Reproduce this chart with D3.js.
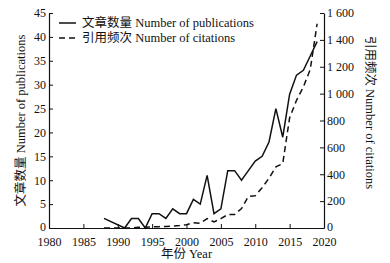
<!DOCTYPE html>
<html>
<head>
<meta charset="utf-8">
<script src="https://cdn.jsdelivr.net/npm/d3@7"></script>
<style>
  body { margin: 0; background: #fff; }
</style>
</head>
<body>
<div id="chart"></div>
<script>
// Data
const pubYears = [1988, 1991, 1992, 1993, 1994, 1995, 1996, 1997, 1998, 1999, 2000, 2001, 2002, 2003, 2004, 2005, 2006, 2007, 2008, 2009, 2010, 2011, 2012, 2013, 2014, 2015, 2016, 2017, 2018, 2019];
const publications = [2, 0, 2, 2, 0, 3, 3, 2, 4, 3, 3, 6, 5, 11, 3, 4, 12, 12, 10, 12, 14, 15, 18, 25, 19, 28, 32, 33, 36, 39];

const citeYears = [1988, 1989, 1990, 1991, 1992, 1993, 1994, 1995, 1996, 1997, 1998, 1999, 2000, 2001, 2002, 2003, 2004, 2005, 2006, 2007, 2008, 2009, 2010, 2011, 2012, 2013, 2014, 2015, 2016, 2017, 2018, 2019];
const citations = [0, 0, 0, 0, 0, 5, 5, 8, 10, 12, 15, 18, 25, 40, 35, 70, 45, 70, 100, 100, 145, 235, 240, 300, 370, 455, 480, 820, 950, 1050, 1180, 1520];

const xTicks = [1980, 1985, 1990, 1995, 2000, 2005, 2010, 2015, 2020];
const leftTicks = [0, 5, 10, 15, 20, 25, 30, 35, 40, 45];
const rightTicks = [0, 200, 400, 600, 800, 1000, 1200, 1400, 1600];

const legendLabels = ["文章数量 Number of publications", "引用频次 Number of citations"];

const width = 390;
const height = 263;
const margin = { top: 13, right: 66, bottom: 35, left: 49 };
const fontFamily = '"Liberation Serif", "Times New Roman", Times, "Noto Sans CJK SC", serif';

const svg = d3.select("#chart")
  .append("svg")
  .attr("width", width)
  .attr("height", height)
  .style("font-family", fontFamily);

const x = d3.scaleLinear().domain([1980, 2020]).range([margin.left, width - margin.right]);
const yLeft = d3.scaleLinear().domain([0, 45]).range([height - margin.bottom, margin.top]);
const yRight = d3.scaleLinear().domain([0, 1600]).range([height - margin.bottom, margin.top]);

// thousands separated with a space, like "1 600"
const fmtRight = (d) => (d >= 1000 ? `${Math.floor(d / 1000)} ${String(d % 1000).padStart(3, "0")}` : d);

const axisStyle = (g) => {
  g.attr("font-family", null);
  g.select(".domain").attr("stroke", "#111").attr("stroke-width", 1.2);
  g.selectAll(".tick line").attr("stroke", "#111");
  g.selectAll(".tick text")
    .style("font-family", fontFamily)
    .style("font-size", "12px")
    .attr("fill", "#111");
};

// bottom axis (ticks pointing in)
svg.append("g")
  .attr("transform", `translate(0,${height - margin.bottom})`)
  .call(d3.axisBottom(x).tickValues(xTicks).tickFormat(d3.format("d")).tickSizeInner(-4).tickSizeOuter(0).tickPadding(9))
  .call(axisStyle);

// left axis
svg.append("g")
  .attr("transform", `translate(${margin.left},0)`)
  .call(d3.axisLeft(yLeft).tickValues(leftTicks).tickSizeInner(-4).tickSizeOuter(0).tickPadding(3))
  .call(axisStyle)
  .selectAll(".tick text").filter((d) => d === 0).attr("dy", "0.2em");

// right axis
svg.append("g")
  .attr("transform", `translate(${width - margin.right},0)`)
  .call(d3.axisRight(yRight).tickValues(rightTicks).tickFormat(fmtRight).tickSizeInner(-4).tickSizeOuter(0).tickPadding(3))
  .call(axisStyle)
  .selectAll(".tick text").filter((d) => d === 0).attr("dy", "0.2em");

// lines
const pubLine = d3.line().x((d, i) => x(pubYears[i])).y((d) => yLeft(d));
const citeLine = d3.line().x((d, i) => x(citeYears[i])).y((d) => yRight(d));

svg.append("path")
  .datum(citations)
  .attr("d", citeLine)
  .attr("fill", "none")
  .attr("stroke", "#111")
  .attr("stroke-width", 1.5)
  .attr("stroke-dasharray", "6,4");

svg.append("path")
  .datum(publications)
  .attr("d", pubLine)
  .attr("fill", "none")
  .attr("stroke", "#111")
  .attr("stroke-width", 1.5);

// axis titles
svg.append("text")
  .attr("transform", `translate(25,${(margin.top + height - margin.bottom) / 2}) rotate(-90)`)
  .attr("text-anchor", "middle")
  .style("font-size", "12.5px")
  .attr("fill", "#111")
  .text("文章数量 Number of publications");

svg.append("text")
  .attr("transform", `translate(366,${(margin.top + height - margin.bottom) / 2 - 8}) rotate(90)`)
  .attr("text-anchor", "middle")
  .style("font-size", "12.5px")
  .attr("fill", "#111")
  .text("引用频次 Number of citations");

svg.append("text")
  .attr("x", (margin.left + width - margin.right) / 2)
  .attr("y", 258)
  .attr("text-anchor", "middle")
  .style("font-size", "12.5px")
  .attr("fill", "#111")
  .text("年份 Year");

// legend
const legend = svg.append("g").attr("transform", "translate(59,23)");
legendLabels.forEach((label, i) => {
  const row = legend.append("g").attr("transform", `translate(0,${i * 15})`);
  row.append("line")
    .attr("x1", 0).attr("x2", 17)
    .attr("stroke", "#111")
    .attr("stroke-width", 1.5)
    .attr("stroke-dasharray", i === 1 ? "6,4" : null);
  row.append("text")
    .attr("x", 23)
    .attr("dy", "0.35em")
    .style("font-size", "12.5px")
    .attr("fill", "#111")
    .text(label);
});
</script>
</body>
</html>
